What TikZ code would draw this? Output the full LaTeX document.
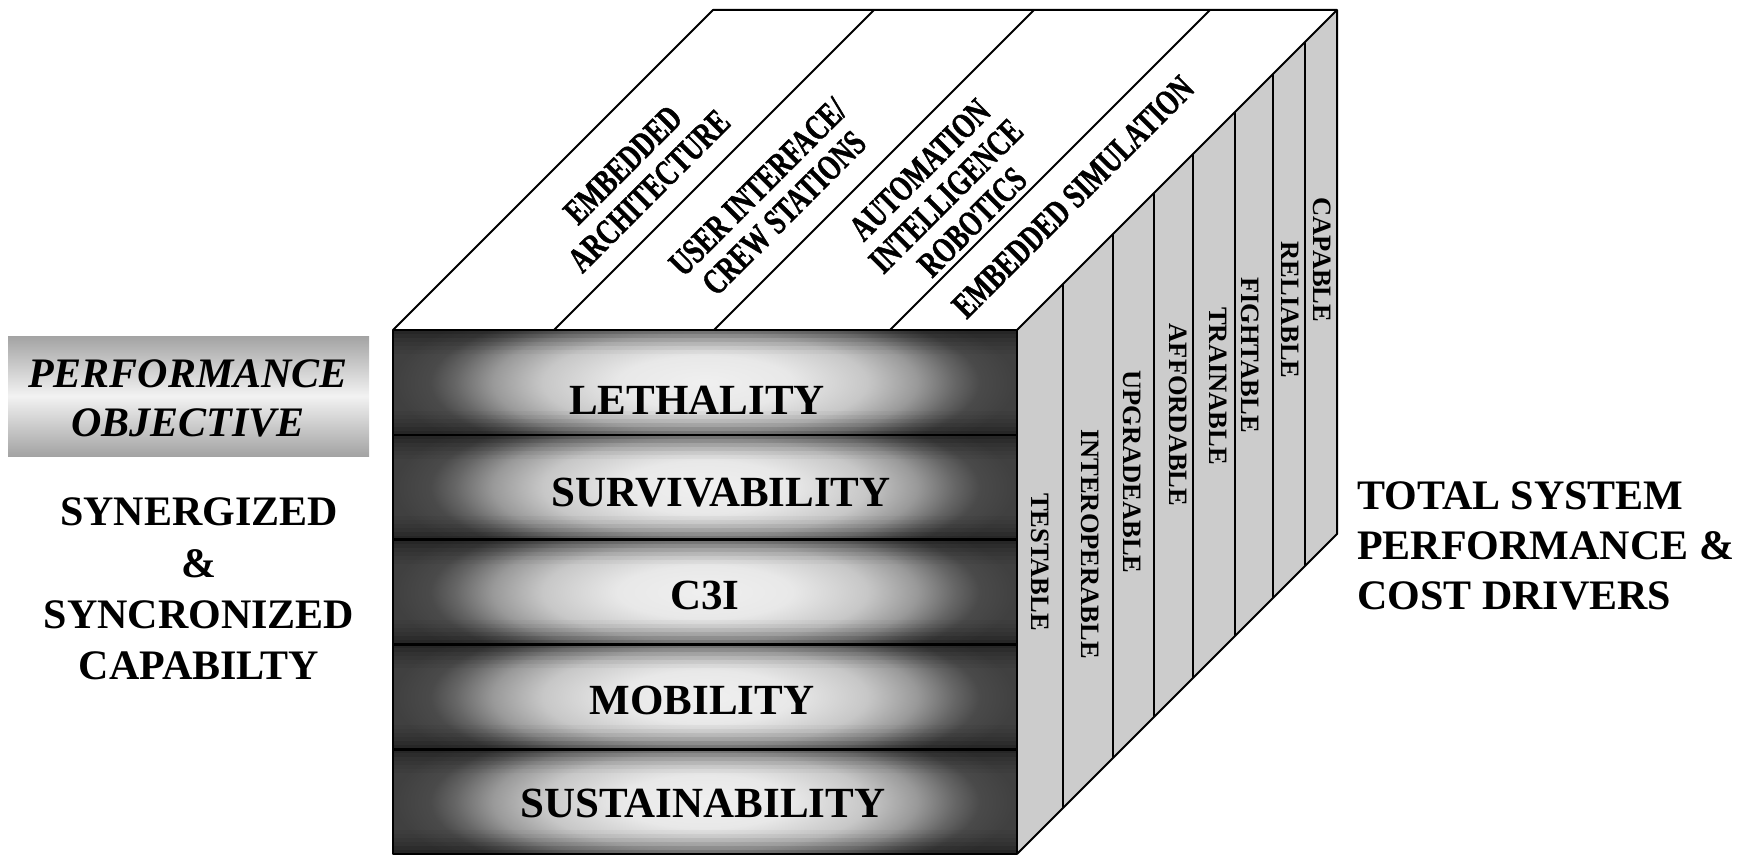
\documentclass[tikz,border=0pt]{standalone}
\usepackage{fontspec}
\setmainfont{Liberation Serif}
\newfontfamily\topfont{Liberation Serif Bold}[FakeStretch=0.72, FakeBold=1.2]

\definecolor{gA}{gray}{0.94}
\definecolor{gB}{gray}{0.91}
\definecolor{gC}{gray}{0.78}
\definecolor{gD}{gray}{0.60}
\definecolor{gE}{gray}{0.40}
\definecolor{gF}{gray}{0.29}
\definecolor{gG}{gray}{0.25}
\definecolor{sidegray}{gray}{0.80}
\definecolor{pogray}{gray}{0.64}
\definecolor{polight}{gray}{0.95}

\pgfdeclareradialshading{rowrad}{\pgfpoint{0bp}{0bp}}{color(0bp)=(gA); color(7bp)=(gB); color(13bp)=(gC); color(17bp)=(gD); color(20bp)=(gE); color(22bp)=(gF); color(25bp)=(gG); color(50bp)=(gG)}

\begin{document}
\begin{tikzpicture}[x=1pt,y=-1pt, line join=round,
  edge/.style={line width=2pt, draw=black},
  rowline/.style={line width=2.6pt, draw=black},
  rowlabel/.style={font=\fontsize{43}{50}\selectfont\bfseries, inner sep=0pt},
  sidelabel/.style={font=\fontsize{26.5}{31}\selectfont\bfseries, rotate=-90, inner sep=0pt},
  toplabel/.style={font=\fontsize{36}{37}\selectfont\topfont, rotate=45, align=center, inner sep=0pt},
  bigtext/.style={font=\fontsize{42}{51.3}\selectfont\bfseries, align=center, inner sep=0pt},
  righttext/.style={font=\fontsize{42}{50}\selectfont\bfseries, align=left, inner sep=0pt, anchor=west},
]
\useasboundingbox (0,0) rectangle (1754,856);

% ---- top face
\fill[white] (393,330) -- (713,10) -- (1337,10) -- (1017,330) -- cycle;
% ---- right face
\fill[sidegray] (1017,330) -- (1337,10) -- (1337,534) -- (1017,854) -- cycle;

% top face dividers
\foreach \x in {554,714,890} \draw[edge] (\x,330) -- ++(320,-320);

% right face dividers
\foreach \x in {1063,1113,1154,1193,1235,1273,1305}
  \draw[edge] (\x,{330-(\x-1017)}) -- (\x,{854-(\x-1017)});

% ---- front face rows
\foreach \i in {0,...,4} {
  \begin{scope}
    \clip (393,{330+104.8*\i}) rectangle (1017,{330+104.8*(\i+1)});
    \shade[shading=rowrad] (393,{330+104.8*(\i+0.5)-94.3}) rectangle (1017,{330+104.8*(\i+0.5)+94.3});
    \foreach \j/\o in {0/0.40,1/0.30,2/0.21,3/0.14,4/0.08,5/0.03} {
      \fill[black, fill opacity=\o] (393,{330+104.8*\i+4*\j}) rectangle (1017,{330+104.8*\i+4*\j+4});
      \fill[black, fill opacity=\o] (393,{330+104.8*(\i+1)-4*\j}) rectangle (1017,{330+104.8*(\i+1)-4*\j-4});
    }
  \end{scope}
}
\foreach \i in {1,...,4}
  \draw[rowline] (393,{330+104.8*\i}) -- (1017,{330+104.8*\i});

% outlines
\draw[edge] (393,330) rectangle (1017,854);
\draw[edge] (393,330) -- (713,10) -- (1337,10) -- (1337,534) -- (1017,854);
\draw[edge] (1017,330) -- (1337,10);

% ---- front labels
\node[rowlabel] (leth) at (697,400) {LETHALITY};
\node[rowlabel] (surv) at (721,493) {SURVIVABILITY};
\node[rowlabel] (cthree) at (705,595) {C3I};
\node[rowlabel] (mob) at (702,700) {MOBILITY};
\node[rowlabel] (sust) at (703,803) {SUSTAINABILITY};

% ---- top labels
\node[toplabel] (ea) at (636,178) {EMBEDDED\\ARCHITECTURE};
\node[toplabel] (ui) at (771,200) {USER INTERFACE/\\CREW STATIONS};
\node[toplabel] (ai) at (946,196) {AUTOMATION\\INTELLIGENCE\\ROBOTICS};
\node[toplabel] (es) at (1073,197) {EMBEDDED SIMULATION};

% ---- side labels
\node[sidelabel] (test) at (1040,562) {TESTABLE};
\node[sidelabel] (inter) at (1090,544) {INTEROPERABLE};
\node[sidelabel] (upg) at (1132,472) {UPGRADEABLE};
\node[sidelabel] (aff) at (1178,415) {AFFORDABLE};
\node[sidelabel] (train) at (1218,386) {TRAINABLE};
\node[sidelabel] (fight) at (1250,355) {FIGHTABLE};
\node[sidelabel] (rel) at (1290,310) {RELIABLE};
\node[sidelabel] (cap) at (1322,260) {CAPABLE};

% ---- left side
\shade[top color=pogray, bottom color=pogray, middle color=polight] (8,336) rectangle (369,456);
\node[bigtext, font=\fontsize{42}{49}\selectfont\bfseries\itshape] (perf) at (188,398) {PERFORMANCE\\OBJECTIVE};
\node[bigtext] (syn) at (199,589) {SYNERGIZED\\\&\\SYNCRONIZED\\CAPABILTY};

% ---- right side
\node[righttext] (tot) at (1357,546) {TOTAL SYSTEM\\PERFORMANCE \&\\COST DRIVERS};
\end{tikzpicture}
\end{document}
